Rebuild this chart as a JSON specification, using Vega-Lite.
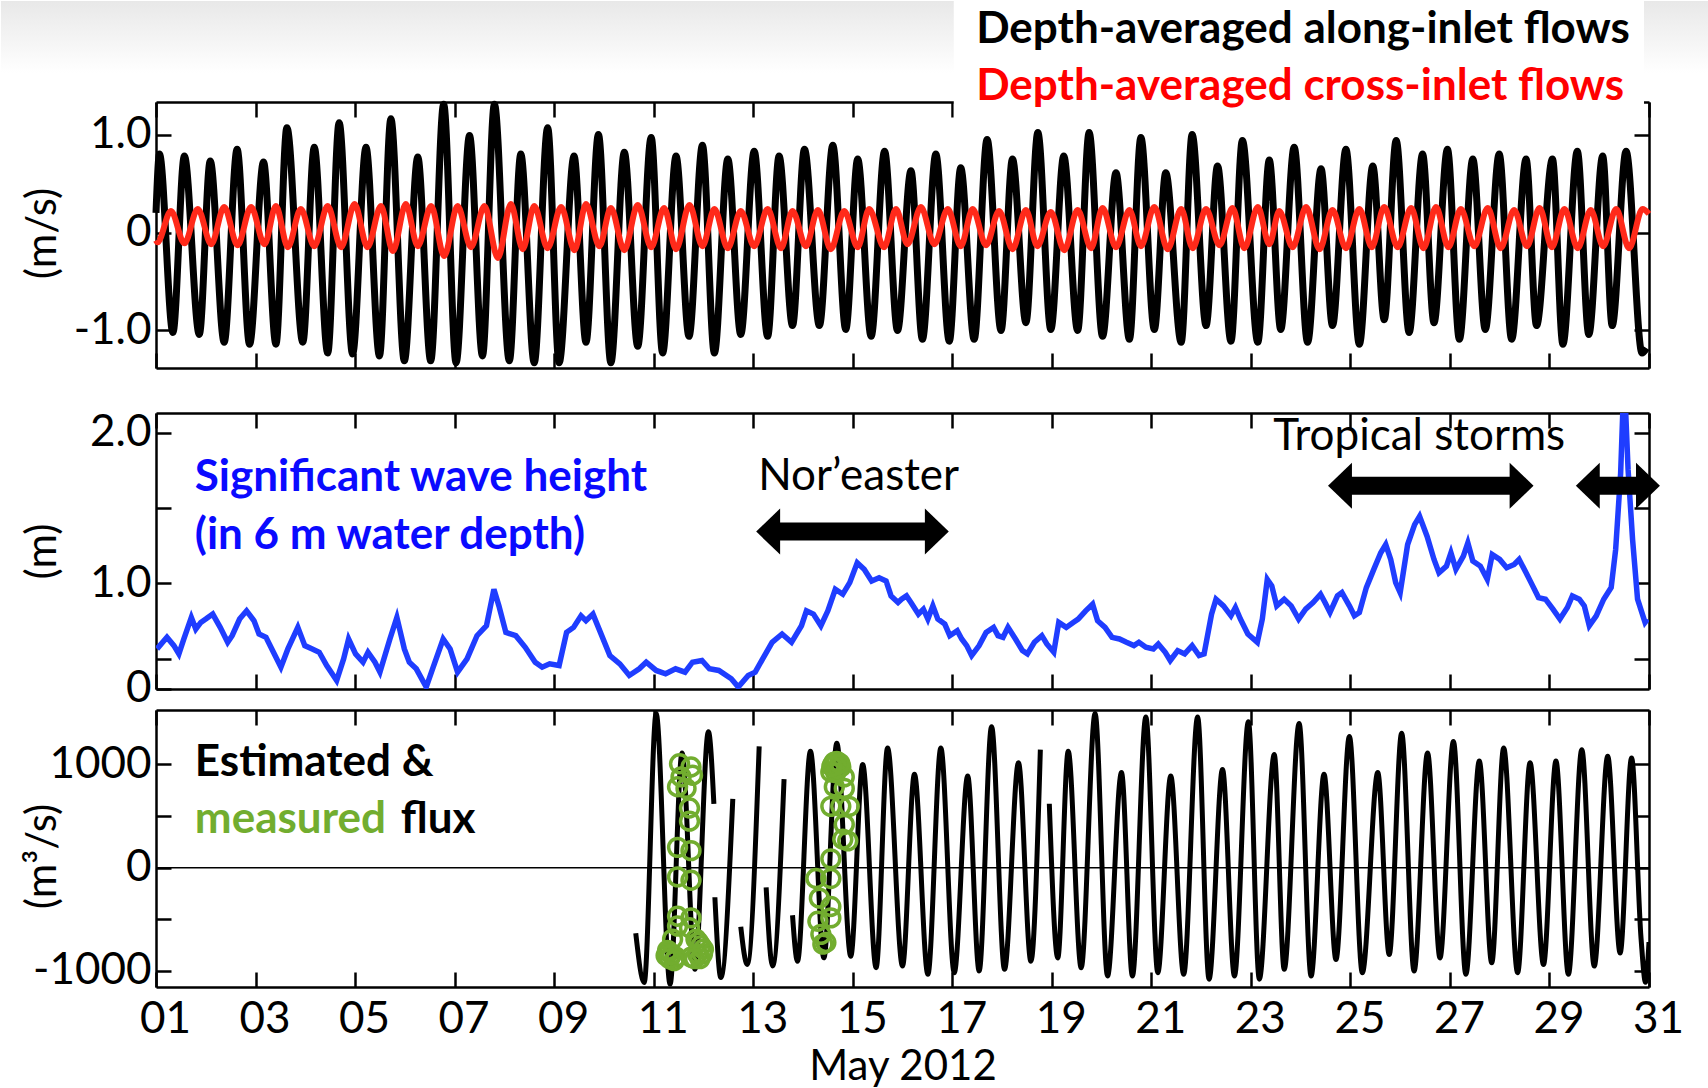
{
  "$schema": "https://vega.github.io/schema/vega-lite/v6.json",
  "padding": 0,
  "autosize": {"type": "pad"},
  "background": "white",
  "bounds": "flush",
  "spacing": 45,
  "datasets": {
    "frame": [{"x1": -2.115, "x2": 32.206, "y1": 2.363, "y2": -8.742}],
    "band": [{"x1": -2.115, "x2": 32.206, "y1": 2.363, "y2": 1.628}],
    "box": [{"x1": 17.03, "x2": 30.9, "y1": 2.363, "y2": 1.169}],
    "n1": [{"x": 17.48, "y": 2.067, "t": "Depth-averaged along-inlet flows"}],
    "n2": [{"x": 17.48, "y": 1.487, "t": "Depth-averaged cross-inlet flows"}],
    "along": [
      {"d":1.00,"v":0.20},{"d":1.07,"v":0.80},{"d":1.34,"v":-1.02},{"d":1.57,"v":0.78},{"d":1.87,"v":-1.04},{"d":2.09,"v":0.73},{"d":2.37,"v":-1.12},{"d":2.63,"v":0.85},{"d":2.88,"v":-1.14},{"d":3.16,"v":0.72},{"d":3.41,"v":-1.14},{"d":3.63,"v":1.07},{"d":3.95,"v":-1.12},{"d":4.18,"v":0.87},{"d":4.45,"v":-1.23},{"d":4.68,"v":1.12},{"d":4.95,"v":-1.24},{"d":5.22,"v":0.87},{"d":5.49,"v":-1.26},{"d":5.72,"v":1.16},{"d":5.99,"v":-1.31},{"d":6.26,"v":0.77},{"d":6.52,"v":-1.31},{"d":6.78,"v":1.31},{"d":7.03,"v":-1.33},{"d":7.30,"v":0.99},{"d":7.56,"v":-1.26},{"d":7.80,"v":1.31},{"d":8.10,"v":-1.31},{"d":8.33,"v":0.80},{"d":8.60,"v":-1.33},{"d":8.87,"v":1.07},{"d":9.10,"v":-1.33},{"d":9.40,"v":0.78},{"d":9.64,"v":-1.12},{"d":9.89,"v":1.00},{"d":10.14,"v":-1.33},{"d":10.41,"v":0.82},{"d":10.68,"v":-1.16},{"d":10.95,"v":0.97},{"d":11.18,"v":-1.23},{"d":11.45,"v":0.78},{"d":11.71,"v":-1.06},{"d":11.98,"v":0.89},{"d":12.22,"v":-1.23},{"d":12.49,"v":0.75},{"d":12.75,"v":-1.04},{"d":13.02,"v":0.83},{"d":13.29,"v":-1.06},{"d":13.52,"v":0.78},{"d":13.79,"v":-0.95},{"d":14.03,"v":0.85},{"d":14.33,"v":-0.95},{"d":14.60,"v":0.89},{"d":14.86,"v":-0.99},{"d":15.10,"v":0.75},{"d":15.37,"v":-1.06},{"d":15.64,"v":0.83},{"d":15.90,"v":-1.00},{"d":16.17,"v":0.63},{"d":16.40,"v":-1.09},{"d":16.67,"v":0.80},{"d":16.94,"v":-1.11},{"d":17.17,"v":0.66},{"d":17.44,"v":-1.09},{"d":17.70,"v":0.95},{"d":17.98,"v":-1.00},{"d":18.21,"v":0.75},{"d":18.48,"v":-0.92},{"d":18.72,"v":1.02},{"d":18.98,"v":-0.99},{"d":19.24,"v":0.78},{"d":19.52,"v":-1.00},{"d":19.75,"v":1.02},{"d":20.02,"v":-1.06},{"d":20.29,"v":0.61},{"d":20.56,"v":-1.09},{"d":20.79,"v":0.97},{"d":21.06,"v":-0.99},{"d":21.29,"v":0.61},{"d":21.60,"v":-1.12},{"d":21.82,"v":1.00},{"d":22.10,"v":-0.95},{"d":22.33,"v":0.68},{"d":22.60,"v":-1.11},{"d":22.83,"v":0.94},{"d":23.14,"v":-1.12},{"d":23.37,"v":0.74},{"d":23.60,"v":-0.99},{"d":23.87,"v":0.87},{"d":24.14,"v":-1.12},{"d":24.41,"v":0.65},{"d":24.64,"v":-0.95},{"d":24.91,"v":0.85},{"d":25.18,"v":-1.14},{"d":25.45,"v":0.68},{"d":25.68,"v":-0.89},{"d":25.92,"v":0.94},{"d":26.18,"v":-1.02},{"d":26.45,"v":0.80},{"d":26.68,"v":-0.92},{"d":26.95,"v":0.85},{"d":27.19,"v":-1.09},{"d":27.46,"v":0.75},{"d":27.71,"v":-0.99},{"d":27.99,"v":0.80},{"d":28.24,"v":-1.09},{"d":28.53,"v":0.75},{"d":28.74,"v":-0.95},{"d":29.06,"v":0.75},{"d":29.27,"v":-1.14},{"d":29.56,"v":0.83},{"d":29.79,"v":-1.04},{"d":30.07,"v":0.78},{"d":30.26,"v":-0.95},{"d":30.54,"v":0.83},{"d":30.86,"v":-1.23},{"d":30.95,"v":-1.18}
    ],
    "cross": [
      {"d":1.00,"v":-0.08},{"d":1.03,"v":-0.10},{"d":1.30,"v":0.22},{"d":1.57,"v":-0.11},{"d":1.84,"v":0.24},{"d":2.11,"v":-0.12},{"d":2.37,"v":0.26},{"d":2.64,"v":-0.13},{"d":2.91,"v":0.26},{"d":3.18,"v":-0.12},{"d":3.41,"v":0.27},{"d":3.65,"v":-0.15},{"d":3.91,"v":0.24},{"d":4.18,"v":-0.14},{"d":4.45,"v":0.27},{"d":4.72,"v":-0.15},{"d":4.99,"v":0.29},{"d":5.25,"v":-0.15},{"d":5.52,"v":0.27},{"d":5.76,"v":-0.19},{"d":6.02,"v":0.29},{"d":6.26,"v":-0.14},{"d":6.53,"v":0.27},{"d":6.79,"v":-0.24},{"d":7.06,"v":0.27},{"d":7.33,"v":-0.15},{"d":7.60,"v":0.27},{"d":7.87,"v":-0.26},{"d":8.13,"v":0.29},{"d":8.37,"v":-0.17},{"d":8.60,"v":0.27},{"d":8.87,"v":-0.16},{"d":9.14,"v":0.26},{"d":9.41,"v":-0.18},{"d":9.64,"v":0.29},{"d":9.91,"v":-0.14},{"d":10.14,"v":0.25},{"d":10.41,"v":-0.18},{"d":10.68,"v":0.28},{"d":10.95,"v":-0.15},{"d":11.21,"v":0.25},{"d":11.45,"v":-0.17},{"d":11.72,"v":0.28},{"d":11.98,"v":-0.14},{"d":12.22,"v":0.24},{"d":12.49,"v":-0.16},{"d":12.75,"v":0.22},{"d":13.02,"v":-0.14},{"d":13.29,"v":0.24},{"d":13.56,"v":-0.16},{"d":13.79,"v":0.22},{"d":14.06,"v":-0.14},{"d":14.30,"v":0.23},{"d":14.56,"v":-0.17},{"d":14.83,"v":0.22},{"d":15.10,"v":-0.15},{"d":15.33,"v":0.24},{"d":15.63,"v":-0.15},{"d":15.87,"v":0.24},{"d":16.10,"v":-0.12},{"d":16.37,"v":0.26},{"d":16.64,"v":-0.12},{"d":16.91,"v":0.24},{"d":17.17,"v":-0.14},{"d":17.41,"v":0.24},{"d":17.68,"v":-0.13},{"d":17.94,"v":0.22},{"d":18.21,"v":-0.17},{"d":18.48,"v":0.23},{"d":18.71,"v":-0.14},{"d":18.98,"v":0.21},{"d":19.25,"v":-0.18},{"d":19.52,"v":0.23},{"d":19.79,"v":-0.16},{"d":20.02,"v":0.25},{"d":20.29,"v":-0.15},{"d":20.56,"v":0.23},{"d":20.79,"v":-0.14},{"d":21.06,"v":0.26},{"d":21.33,"v":-0.17},{"d":21.60,"v":0.24},{"d":21.83,"v":-0.16},{"d":22.10,"v":0.24},{"d":22.37,"v":-0.13},{"d":22.63,"v":0.25},{"d":22.87,"v":-0.16},{"d":23.14,"v":0.26},{"d":23.37,"v":-0.12},{"d":23.57,"v":0.22},{"d":23.84,"v":-0.15},{"d":24.11,"v":0.26},{"d":24.38,"v":-0.17},{"d":24.64,"v":0.23},{"d":24.91,"v":-0.16},{"d":25.18,"v":0.24},{"d":25.43,"v":-0.15},{"d":25.68,"v":0.26},{"d":25.95,"v":-0.15},{"d":26.22,"v":0.25},{"d":26.47,"v":-0.16},{"d":26.72,"v":0.26},{"d":26.97,"v":-0.15},{"d":27.22,"v":0.24},{"d":27.49,"v":-0.14},{"d":27.76,"v":0.25},{"d":28.02,"v":-0.16},{"d":28.29,"v":0.23},{"d":28.55,"v":-0.14},{"d":28.80,"v":0.25},{"d":29.05,"v":-0.15},{"d":29.30,"v":0.24},{"d":29.57,"v":-0.16},{"d":29.83,"v":0.23},{"d":30.08,"v":-0.14},{"d":30.34,"v":0.24},{"d":30.60,"v":-0.16},{"d":30.87,"v":0.24},{"d":31.00,"v":0.19}
    ],
    "hs": [
      {"d":1.02,"v":0.564},{"d":1.22,"v":0.641},{"d":1.36,"v":0.586},{"d":1.46,"v":0.531},{"d":1.56,"v":0.63},{"d":1.71,"v":0.773},{"d":1.80,"v":0.696},{"d":1.90,"v":0.74},{"d":2.00,"v":0.762},{"d":2.14,"v":0.795},{"d":2.29,"v":0.707},{"d":2.44,"v":0.608},{"d":2.53,"v":0.652},{"d":2.68,"v":0.762},{"d":2.82,"v":0.817},{"d":2.97,"v":0.751},{"d":3.07,"v":0.663},{"d":3.21,"v":0.641},{"d":3.36,"v":0.542},{"d":3.51,"v":0.443},{"d":3.65,"v":0.564},{"d":3.85,"v":0.707},{"d":3.99,"v":0.586},{"d":4.14,"v":0.564},{"d":4.28,"v":0.542},{"d":4.43,"v":0.454},{"d":4.63,"v":0.355},{"d":4.77,"v":0.498},{"d":4.87,"v":0.63},{"d":5.01,"v":0.531},{"d":5.16,"v":0.476},{"d":5.26,"v":0.542},{"d":5.40,"v":0.476},{"d":5.50,"v":0.41},{"d":5.70,"v":0.63},{"d":5.84,"v":0.773},{"d":5.99,"v":0.564},{"d":6.09,"v":0.476},{"d":6.23,"v":0.432},{"d":6.43,"v":0.311},{"d":6.57,"v":0.443},{"d":6.77,"v":0.63},{"d":6.91,"v":0.564},{"d":7.06,"v":0.41},{"d":7.25,"v":0.498},{"d":7.45,"v":0.652},{"d":7.64,"v":0.718},{"d":7.79,"v":0.96},{"d":7.89,"v":0.85},{"d":8.03,"v":0.674},{"d":8.23,"v":0.652},{"d":8.42,"v":0.575},{"d":8.62,"v":0.476},{"d":8.76,"v":0.443},{"d":8.91,"v":0.465},{"d":9.10,"v":0.454},{"d":9.25,"v":0.674},{"d":9.39,"v":0.707},{"d":9.54,"v":0.784},{"d":9.64,"v":0.751},{"d":9.78,"v":0.795},{"d":9.93,"v":0.674},{"d":10.12,"v":0.52},{"d":10.32,"v":0.465},{"d":10.51,"v":0.388},{"d":10.71,"v":0.432},{"d":10.85,"v":0.476},{"d":11.05,"v":0.421},{"d":11.24,"v":0.399},{"d":11.44,"v":0.432},{"d":11.63,"v":0.41},{"d":11.78,"v":0.476},{"d":11.97,"v":0.487},{"d":12.12,"v":0.432},{"d":12.31,"v":0.421},{"d":12.56,"v":0.366},{"d":12.70,"v":0.311},{"d":12.90,"v":0.388},{"d":13.04,"v":0.41},{"d":13.19,"v":0.498},{"d":13.38,"v":0.608},{"d":13.58,"v":0.663},{"d":13.77,"v":0.608},{"d":13.97,"v":0.718},{"d":14.07,"v":0.817},{"d":14.21,"v":0.795},{"d":14.36,"v":0.718},{"d":14.50,"v":0.817},{"d":14.65,"v":0.96},{"d":14.80,"v":0.927},{"d":14.94,"v":1.004},{"d":15.09,"v":1.136},{"d":15.23,"v":1.092},{"d":15.38,"v":1.015},{"d":15.53,"v":1.037},{"d":15.67,"v":1.015},{"d":15.77,"v":0.916},{"d":15.91,"v":0.872},{"d":15.98,"v":0.894},{"d":16.08,"v":0.916},{"d":16.17,"v":0.872},{"d":16.32,"v":0.795},{"d":16.42,"v":0.828},{"d":16.51,"v":0.762},{"d":16.61,"v":0.85},{"d":16.71,"v":0.762},{"d":16.85,"v":0.729},{"d":16.95,"v":0.652},{"d":17.10,"v":0.685},{"d":17.19,"v":0.63},{"d":17.29,"v":0.586},{"d":17.39,"v":0.52},{"d":17.54,"v":0.586},{"d":17.68,"v":0.674},{"d":17.83,"v":0.707},{"d":17.92,"v":0.652},{"d":18.02,"v":0.641},{"d":18.12,"v":0.707},{"d":18.27,"v":0.63},{"d":18.41,"v":0.553},{"d":18.51,"v":0.531},{"d":18.65,"v":0.608},{"d":18.80,"v":0.652},{"d":18.90,"v":0.597},{"d":19.04,"v":0.542},{"d":19.14,"v":0.74},{"d":19.29,"v":0.707},{"d":19.43,"v":0.74},{"d":19.53,"v":0.762},{"d":19.68,"v":0.817},{"d":19.82,"v":0.861},{"d":19.92,"v":0.751},{"d":20.07,"v":0.707},{"d":20.21,"v":0.641},{"d":20.36,"v":0.63},{"d":20.50,"v":0.608},{"d":20.65,"v":0.586},{"d":20.75,"v":0.608},{"d":20.89,"v":0.575},{"d":21.04,"v":0.564},{"d":21.14,"v":0.597},{"d":21.28,"v":0.542},{"d":21.38,"v":0.487},{"d":21.53,"v":0.553},{"d":21.67,"v":0.531},{"d":21.82,"v":0.586},{"d":21.96,"v":0.52},{"d":22.06,"v":0.531},{"d":22.21,"v":0.795},{"d":22.30,"v":0.894},{"d":22.45,"v":0.85},{"d":22.60,"v":0.784},{"d":22.69,"v":0.839},{"d":22.79,"v":0.762},{"d":22.94,"v":0.663},{"d":23.13,"v":0.608},{"d":23.23,"v":0.762},{"d":23.33,"v":1.026},{"d":23.42,"v":0.982},{"d":23.52,"v":0.85},{"d":23.67,"v":0.894},{"d":23.81,"v":0.85},{"d":23.96,"v":0.762},{"d":24.10,"v":0.828},{"d":24.25,"v":0.872},{"d":24.40,"v":0.927},{"d":24.49,"v":0.872},{"d":24.59,"v":0.806},{"d":24.74,"v":0.916},{"d":24.83,"v":0.938},{"d":24.98,"v":0.85},{"d":25.08,"v":0.784},{"d":25.18,"v":0.806},{"d":25.32,"v":0.971},{"d":25.47,"v":1.092},{"d":25.61,"v":1.202},{"d":25.71,"v":1.257},{"d":25.81,"v":1.158},{"d":25.91,"v":1.004},{"d":26.00,"v":0.938},{"d":26.15,"v":1.257},{"d":26.29,"v":1.389},{"d":26.39,"v":1.444},{"d":26.54,"v":1.312},{"d":26.68,"v":1.158},{"d":26.78,"v":1.07},{"d":26.93,"v":1.114},{"d":27.02,"v":1.202},{"d":27.12,"v":1.092},{"d":27.27,"v":1.18},{"d":27.36,"v":1.268},{"d":27.46,"v":1.147},{"d":27.61,"v":1.114},{"d":27.75,"v":1.026},{"d":27.85,"v":1.191},{"d":28.00,"v":1.158},{"d":28.14,"v":1.103},{"d":28.29,"v":1.125},{"d":28.39,"v":1.158},{"d":28.53,"v":1.07},{"d":28.63,"v":1.004},{"d":28.78,"v":0.905},{"d":28.92,"v":0.894},{"d":29.07,"v":0.828},{"d":29.21,"v":0.762},{"d":29.36,"v":0.839},{"d":29.46,"v":0.916},{"d":29.60,"v":0.894},{"d":29.70,"v":0.85},{"d":29.80,"v":0.718},{"d":29.94,"v":0.784},{"d":30.09,"v":0.894},{"d":30.24,"v":0.971},{"d":30.33,"v":1.224},{"d":30.43,"v":1.73},{"d":30.48,"v":2.2},{"d":30.53,"v":2.15},{"d":30.58,"v":1.752},{"d":30.67,"v":1.29},{"d":30.77,"v":0.894},{"d":30.92,"v":0.74},{"d":30.97,"v":0.762}
    ],
    "hsText": [{"x": 1.78, "y": 1.699, "t": "Significant wave height"}, {"x": 1.78, "y": 1.314, "t": "(in 6 m water depth)"}],
    "events": [{"x": 13.10, "y": 1.705, "t": "Nor’easter"}, {"x": 23.45, "y": 1.973, "t": "Tropical storms"}],
    "arrows": [{"a": 13.06, "b": 16.93, "y": 1.343}, {"a": 24.55, "b": 28.68, "y": 1.647}, {"a": 29.53, "b": 31.22, "y": 1.647}],
    "flux": [
      {"d":10.64,"v":-635,"s":1},{"d":10.81,"v":-1111,"s":1},{"d":11.05,"v":1492,"s":1},{"d":11.33,"v":-1127,"s":1},{"d":11.57,"v":1111,"s":1},{"d":11.83,"v":-984,"s":1},{"d":12.10,"v":1317,"s":1},{"d":12.21,"v":619,"s":1},
      {"d":12.23,"v":-286,"s":2},{"d":12.35,"v":-1063,"s":2},{"d":12.59,"v":667,"s":2},
      {"d":12.75,"v":-571,"s":3},{"d":12.88,"v":-937,"s":3},{"d":13.12,"v":1175,"s":3},
      {"d":13.26,"v":-190,"s":4},{"d":13.39,"v":-952,"s":4},{"d":13.62,"v":857,"s":4},
      {"d":13.79,"v":-460,"s":5},{"d":13.89,"v":-905,"s":5},{"d":14.15,"v":1127,"s":5},{"d":14.42,"v":-873,"s":5},{"d":14.68,"v":1206,"s":5},{"d":14.96,"v":-857,"s":5},{"d":15.20,"v":1000,"s":5},{"d":15.47,"v":-968,"s":5},{"d":15.70,"v":1159,"s":5},{"d":16.00,"v":-952,"s":5},{"d":16.24,"v":905,"s":5},{"d":16.51,"v":-1032,"s":5},{"d":16.77,"v":1159,"s":5},{"d":17.04,"v":-1016,"s":5},{"d":17.31,"v":889,"s":5},{"d":17.54,"v":-1000,"s":5},{"d":17.79,"v":1365,"s":5},{"d":18.05,"v":-984,"s":5},{"d":18.33,"v":1016,"s":5},{"d":18.58,"v":-905,"s":5},{"d":18.77,"v":1143,"s":5},
      {"d":18.95,"v":619,"s":6},{"d":19.12,"v":-873,"s":6},{"d":19.33,"v":1127,"s":6},{"d":19.59,"v":-968,"s":6},{"d":19.87,"v":1492,"s":6},{"d":20.12,"v":-1048,"s":6},{"d":20.40,"v":921,"s":6},{"d":20.62,"v":-1048,"s":6},{"d":20.89,"v":1460,"s":6},{"d":21.13,"v":-1016,"s":6},{"d":21.39,"v":889,"s":6},{"d":21.65,"v":-1032,"s":6},{"d":21.93,"v":1460,"s":6},{"d":22.16,"v":-1079,"s":6},{"d":22.43,"v":952,"s":6},{"d":22.67,"v":-1048,"s":6},{"d":22.95,"v":1413,"s":6},{"d":23.17,"v":-1079,"s":6},{"d":23.47,"v":1095,"s":6},{"d":23.67,"v":-984,"s":6},{"d":23.97,"v":1397,"s":6},{"d":24.21,"v":-1048,"s":6},{"d":24.47,"v":905,"s":6},{"d":24.71,"v":-889,"s":6},{"d":24.98,"v":1270,"s":6},{"d":25.24,"v":-1016,"s":6},{"d":25.55,"v":921,"s":6},{"d":25.78,"v":-841,"s":6},{"d":26.03,"v":1302,"s":6},{"d":26.28,"v":-1000,"s":6},{"d":26.55,"v":1111,"s":6},{"d":26.80,"v":-873,"s":6},{"d":27.07,"v":1222,"s":6},{"d":27.32,"v":-1032,"s":6},{"d":27.59,"v":1032,"s":6},{"d":27.84,"v":-921,"s":6},{"d":28.08,"v":1159,"s":6},{"d":28.36,"v":-1016,"s":6},{"d":28.61,"v":1016,"s":6},{"d":28.88,"v":-937,"s":6},{"d":29.13,"v":1032,"s":6},{"d":29.38,"v":-1032,"s":6},{"d":29.65,"v":1143,"s":6},{"d":29.90,"v":-952,"s":6},{"d":30.17,"v":1079,"s":6},{"d":30.42,"v":-825,"s":6},{"d":30.65,"v":1063,"s":6},{"d":30.84,"v":-683,"s":6},{"d":30.93,"v":-1110,"s":6},{"d":31.00,"v":-720,"s":6}
    ],
    "meas": [
      {"d":11.52,"v":1006},{"d":11.75,"v":975},{"d":11.55,"v":879},{"d":11.78,"v":895},{"d":11.48,"v":784},{"d":11.65,"v":768},{"d":11.72,"v":578},{"d":11.72,"v":451},{"d":11.48,"v":197},{"d":11.75,"v":165},{"d":11.48,"v":-89},{"d":11.75,"v":-121},{"d":11.48,"v":-470},{"d":11.75,"v":-486},{"d":11.48,"v":-565},{"d":11.72,"v":-581},{"d":11.38,"v":-692},{"d":11.31,"v":-819},{"d":11.45,"v":-867},{"d":11.25,"v":-851},{"d":11.85,"v":-692},{"d":11.95,"v":-756},{"d":11.88,"v":-835},{"d":11.75,"v":-867},{"d":11.98,"v":-835},{"d":11.28,"v":-800},{"d":11.32,"v":-880},{"d":11.36,"v":-840},{"d":11.41,"v":-900},{"d":11.90,"v":-720},{"d":11.82,"v":-880},{"d":12.0,"v":-790},{"d":11.93,"v":-880},
      {"d":14.63,"v":1022},{"d":14.76,"v":975},{"d":14.56,"v":927},{"d":14.83,"v":879},{"d":14.63,"v":784},{"d":14.83,"v":768},{"d":14.56,"v":594},{"d":14.76,"v":594},{"d":14.93,"v":594},{"d":14.83,"v":419},{"d":14.80,"v":276},{"d":14.90,"v":260},{"d":14.56,"v":86},{"d":14.26,"v":-105},{"d":14.56,"v":-105},{"d":14.33,"v":-295},{"d":14.56,"v":-375},{"d":14.30,"v":-518},{"d":14.56,"v":-486},{"d":14.36,"v":-645},{"d":14.46,"v":-724},{"d":14.40,"v":-740},{"d":14.60,"v":1000},{"d":14.68,"v":1030},{"d":14.70,"v":960},{"d":14.66,"v":920},{"d":14.74,"v":1010},{"d":14.58,"v":980}
    ],
    "fluxText": [{"x": 1.78, "y": 1009, "t": "Estimated &"}, {"x": 5.92, "y": 462, "t": "flux"}],
    "measText": [{"x": 1.78, "y": 462, "t": "measured"}],
    "zero": [{"z": 0}]
  },
  "vconcat": [
    {
      "width": 1493,
      "height": 266,
      "resolve": {"axis": {"x": "independent", "y": "independent"}},
      "layer": [
        {
          "data": {"name": "frame"},
          "mark": {"type": "rect", "opacity": 0},
          "encoding": {
            "x": {"field": "x1", "type": "quantitative", "scale": {"domain": [1, 31], "nice": false, "zero": false}, "axis": {"orient": "top", "values": [1,3,5,7,9,11,13,15,17,19,21,23,25,27,29,31], "labels": false, "title": null}},
            "x2": {"field": "x2"},
            "y": {"field": "y1", "type": "quantitative", "scale": {"domain": [-1.383, 1.332], "nice": false, "zero": false}, "axis": {"orient": "right", "values": [-1, 0, 1], "labels": false, "title": null}},
            "y2": {"field": "y2"}
          }
        },
        {
          "data": {"name": "band"},
          "mark": {"type": "rect", "color": {"gradient": "linear", "x1": 0, "y1": 0, "x2": 0, "y2": 1, "stops": [{"offset": 0, "color": "#e8e8e8"}, {"offset": 1, "color": "#ffffff"}]}},
          "encoding": {
            "x": {"field": "x1", "type": "quantitative", "scale": {"domain": [1, 31], "nice": false, "zero": false}, "axis": null},
            "x2": {"field": "x2"},
            "y": {"field": "y1", "type": "quantitative", "scale": {"domain": [-1.383, 1.332], "nice": false, "zero": false}, "axis": null},
            "y2": {"field": "y2"}
          }
        },
        {
          "data": {"name": "box"},
          "mark": {"type": "rect", "color": "white"},
          "encoding": {
            "x": {"field": "x1", "type": "quantitative", "scale": {"domain": [1, 31], "nice": false, "zero": false}, "axis": null},
            "x2": {"field": "x2"},
            "y": {"field": "y1", "type": "quantitative", "scale": {"domain": [-1.383, 1.332], "nice": false, "zero": false}, "axis": null},
            "y2": {"field": "y2"}
          }
        },
        {
          "data": {"name": "along"},
          "mark": {"type": "line", "color": "black", "strokeWidth": 7, "interpolate": "monotone"},
          "encoding": {
            "x": {"field": "d", "type": "quantitative", "scale": {"domain": [1, 31], "nice": false, "zero": false}, "axis": {"orient": "bottom", "values": [1,3,5,7,9,11,13,15,17,19,21,23,25,27,29,31], "labels": false, "title": null}},
            "y": {"field": "v", "type": "quantitative", "scale": {"domain": [-1.383, 1.332], "nice": false, "zero": false}, "axis": {"orient": "left", "values": [-1, 0, 1], "labelExpr": "datum.value == 0 ? '0' : datum.value == 1 ? '1.0' : '-1.0'", "labelPadding": 20, "title": "(m/s)", "titleX": -114, "titleY": 131, "titleAngle": 270, "titleAlign": "center", "titleBaseline": "middle"}}
          }
        },
        {
          "data": {"name": "cross"},
          "mark": {"type": "line", "color": "#ff2a1a", "strokeWidth": 6, "interpolate": "monotone"},
          "encoding": {
            "x": {"field": "d", "type": "quantitative", "scale": {"domain": [1, 31], "nice": false, "zero": false}, "axis": null},
            "y": {"field": "v", "type": "quantitative", "scale": {"domain": [-1.383, 1.332], "nice": false, "zero": false}, "axis": null}
          }
        },
        {
          "data": {"name": "n1"},
          "mark": {"type": "text", "align": "left", "baseline": "middle", "fontSize": 44, "fontWeight": "bold", "color": "black", "font": "Lato"},
          "encoding": {
            "x": {"field": "x", "type": "quantitative", "scale": {"domain": [1, 31], "nice": false, "zero": false}, "axis": null},
            "y": {"field": "y", "type": "quantitative", "scale": {"domain": [-1.383, 1.332], "nice": false, "zero": false}, "axis": null},
            "text": {"field": "t"}
          }
        },
        {
          "data": {"name": "n2"},
          "mark": {"type": "text", "align": "left", "baseline": "middle", "fontSize": 44, "fontWeight": "bold", "color": "#ff0000", "font": "Lato"},
          "encoding": {
            "x": {"field": "x", "type": "quantitative", "scale": {"domain": [1, 31], "nice": false, "zero": false}, "axis": null},
            "y": {"field": "y", "type": "quantitative", "scale": {"domain": [-1.383, 1.332], "nice": false, "zero": false}, "axis": null},
            "text": {"field": "t"}
          }
        }
      ]
    },
    {
      "bounds": "flush",
      "spacing": 21,
      "vconcat": [
        {
          "width": 1493,
          "height": 276,
          "resolve": {"axis": {"x": "independent", "y": "independent"}},
          "layer": [
            {
              "data": {"name": "hs"},
              "mark": {"type": "line", "color": "#1f3dff", "strokeWidth": 5.5, "clip": true},
              "encoding": {
                "x": {"field": "d", "type": "quantitative", "scale": {"domain": [1, 31], "nice": false, "zero": false}, "axis": {"orient": "bottom", "values": [1,3,5,7,9,11,13,15,17,19,21,23,25,27,29,31], "labels": false, "title": null}},
                "y": {"field": "v", "type": "quantitative", "scale": {"domain": [0.298, 2.13], "nice": false, "zero": false}, "axis": {"orient": "left", "values": [0.3, 0.5, 1, 1.5, 2], "labelExpr": "datum.value == 0.3 ? '0' : datum.value == 1 ? '1.0' : datum.value == 2 ? '2.0' : ''", "labelPadding": 20, "title": "(m)", "titleX": -114, "titleY": 138, "titleAngle": 270, "titleAlign": "center", "titleBaseline": "middle"}}
              }
            },
            {
              "data": {"name": "hsText"},
              "mark": {"type": "text", "align": "left", "baseline": "middle", "fontSize": 44, "fontWeight": "bold", "color": "#0a0aff", "font": "Lato"},
              "encoding": {
                "x": {"field": "x", "type": "quantitative", "scale": {"domain": [1, 31], "nice": false, "zero": false}, "axis": {"orient": "top", "values": [1,3,5,7,9,11,13,15,17,19,21,23,25,27,29,31], "labels": false, "title": null}},
                "y": {"field": "y", "type": "quantitative", "scale": {"domain": [0.298, 2.13], "nice": false, "zero": false}, "axis": {"orient": "right", "values": [0.5, 1, 1.5, 2], "labels": false, "title": null}},
                "text": {"field": "t"}
              }
            },
            {
              "data": {"name": "events"},
              "mark": {"type": "text", "align": "left", "baseline": "middle", "fontSize": 44, "color": "black", "font": "Lato"},
              "encoding": {
                "x": {"field": "x", "type": "quantitative", "scale": {"domain": [1, 31], "nice": false, "zero": false}, "axis": null},
                "y": {"field": "y", "type": "quantitative", "scale": {"domain": [0.298, 2.13], "nice": false, "zero": false}, "axis": null},
                "text": {"field": "t"}
              }
            },
            {
              "data": {"name": "arrows"},
              "mark": {"type": "rule", "color": "black", "strokeWidth": 18, "strokeCap": "butt", "xOffset": 20, "x2Offset": -20},
              "encoding": {
                "x": {"field": "a", "type": "quantitative", "scale": {"domain": [1, 31], "nice": false, "zero": false}, "axis": null},
                "x2": {"field": "b"},
                "y": {"field": "y", "type": "quantitative", "scale": {"domain": [0.298, 2.13], "nice": false, "zero": false}, "axis": null}
              }
            },
            {
              "data": {"name": "arrows"},
              "mark": {"type": "point", "shape": "M0,0L1.04,-1L1.04,1Z", "size": 2116, "filled": true, "color": "black", "opacity": 1, "strokeWidth": 0},
              "encoding": {
                "x": {"field": "a", "type": "quantitative", "scale": {"domain": [1, 31], "nice": false, "zero": false}, "axis": null},
                "y": {"field": "y", "type": "quantitative", "scale": {"domain": [0.298, 2.13], "nice": false, "zero": false}, "axis": null}
              }
            },
            {
              "data": {"name": "arrows"},
              "mark": {"type": "point", "shape": "M0,0L-1.04,-1L-1.04,1Z", "size": 2116, "filled": true, "color": "black", "opacity": 1, "strokeWidth": 0},
              "encoding": {
                "x": {"field": "b", "type": "quantitative", "scale": {"domain": [1, 31], "nice": false, "zero": false}, "axis": null},
                "y": {"field": "y", "type": "quantitative", "scale": {"domain": [0.298, 2.13], "nice": false, "zero": false}, "axis": null}
              }
            }
          ]
        },
        {
          "width": 1493,
          "height": 277,
          "resolve": {"axis": {"x": "independent", "y": "independent"}},
          "layer": [
            {
              "data": {"name": "zero"},
              "mark": {"type": "rule", "color": "black", "strokeWidth": 1.5},
              "encoding": {
                "y": {"field": "z", "type": "quantitative", "scale": {"domain": [-1155, 1527], "nice": false, "zero": false}, "axis": {"orient": "right", "values": [-1000, -500, 0, 500, 1000], "labels": false, "title": null}}
              }
            },
            {
              "data": {"name": "flux"},
              "mark": {"type": "line", "color": "black", "strokeWidth": 5, "interpolate": "monotone", "clip": true},
              "encoding": {
                "x": {"field": "d", "type": "quantitative", "scale": {"domain": [1, 31], "nice": false, "zero": false}, "axis": {"orient": "bottom", "values": [1,3,5,7,9,11,13,15,17,19,21,23,25,27,29,31], "labelExpr": "datum.value < 10 ? '0' + datum.value : '' + datum.value", "labelOffset": 9, "labelPadding": 25, "title": "May 2012", "titleX": 746.5, "titleY": 79, "titleAlign": "center", "titleBaseline": "middle"}},
                "y": {"field": "v", "type": "quantitative", "scale": {"domain": [-1155, 1527], "nice": false, "zero": false}, "axis": {"orient": "left", "values": [-1000, -500, 0, 500, 1000], "labelExpr": "abs(datum.value) == 500 ? '' : '' + datum.value", "labelPadding": 20, "title": "(m³/s)", "titleX": -114, "titleY": 146, "titleAngle": 270, "titleAlign": "center", "titleBaseline": "middle"}},
                "detail": {"field": "s", "type": "nominal"}
              }
            },
            {
              "data": {"name": "meas"},
              "mark": {"type": "point", "shape": "circle", "size": 320, "filled": false, "color": "#72ad2f", "strokeWidth": 3.5, "opacity": 1},
              "encoding": {
                "x": {"field": "d", "type": "quantitative", "scale": {"domain": [1, 31], "nice": false, "zero": false}, "axis": null},
                "y": {"field": "v", "type": "quantitative", "scale": {"domain": [-1155, 1527], "nice": false, "zero": false}, "axis": null}
              }
            },
            {
              "data": {"name": "fluxText"},
              "mark": {"type": "text", "align": "left", "baseline": "middle", "fontSize": 44, "fontWeight": "bold", "color": "black", "font": "Lato"},
              "encoding": {
                "x": {"field": "x", "type": "quantitative", "scale": {"domain": [1, 31], "nice": false, "zero": false}, "axis": {"orient": "top", "values": [1,3,5,7,9,11,13,15,17,19,21,23,25,27,29,31], "labels": false, "title": null}},
                "y": {"field": "y", "type": "quantitative", "scale": {"domain": [-1155, 1527], "nice": false, "zero": false}, "axis": null},
                "text": {"field": "t"}
              }
            },
            {
              "data": {"name": "measText"},
              "mark": {"type": "text", "align": "left", "baseline": "middle", "fontSize": 44, "fontWeight": "bold", "color": "#72ad2f", "font": "Lato"},
              "encoding": {
                "x": {"field": "x", "type": "quantitative", "scale": {"domain": [1, 31], "nice": false, "zero": false}, "axis": null},
                "y": {"field": "y", "type": "quantitative", "scale": {"domain": [-1155, 1527], "nice": false, "zero": false}, "axis": null},
                "text": {"field": "t"}
              }
            }
          ]
        }
      ]
    }
  ],
  "config": {
    "view": {"stroke": null},
    "font": "Lato",
    "axis": {
      "domainColor": "black", "domainWidth": 2.5, "tickColor": "black", "tickWidth": 2.5, "tickSize": -15,
      "labelFont": "Lato", "labelFontSize": 44, "labelColor": "black", "labelFlush": false, "labelOverlap": false,
      "titleFont": "Lato", "titleFontSize": 42, "titleFontWeight": "normal", "titleColor": "black", "grid": false
    }
  }
}
